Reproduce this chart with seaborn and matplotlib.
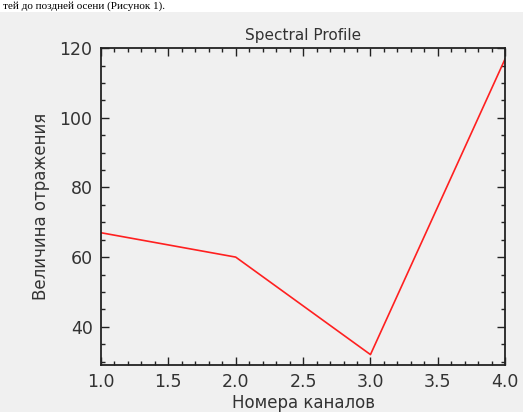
import matplotlib
matplotlib.use('Agg')
import matplotlib.pyplot as plt
from matplotlib.ticker import MultipleLocator
import seaborn as sns
import pandas as pd

channels = [1, 2, 3, 4]
reflectance = [67, 60, 32, 117]

sns.set_theme(style='ticks')
plt.rcParams['font.family'] = ['DejaVu Sans']

df = pd.DataFrame({'channel': channels, 'value': reflectance})

fig = plt.figure(figsize=(5.23, 4.12), dpi=100)
fig.patch.set_facecolor('#f0f0f0')

# white strip at top with the document text above the chart
fig.patches.append(plt.Rectangle((0, 0.97), 1, 0.03, transform=fig.transFigure,
                                 facecolor='white', edgecolor='none'))
fig.text(0.005, 0.973, 'тей до поздней осени (Рисунок 1).', fontsize=8,
         family='Liberation Serif', color='black', va='bottom', ha='left')

ax = fig.add_axes([0.193, 0.114, 0.773, 0.769])
ax.set_facecolor('#f0f0f0')
sns.lineplot(data=df, x='channel', y='value', color='#ff2020', linewidth=1.2, ax=ax)

ax.set_xlim(1.0, 4.0)
ax.set_ylim(29, 120)
ax.xaxis.set_major_locator(MultipleLocator(0.5))
ax.xaxis.set_minor_locator(MultipleLocator(0.1))
ax.yaxis.set_major_locator(MultipleLocator(20))
ax.yaxis.set_minor_locator(MultipleLocator(5))
ax.tick_params(which='both', direction='in', top=True, right=True, color='#222222')
ax.tick_params(which='major', length=6, width=1.0, labelsize=12.5, labelcolor='#333333', pad=6)
ax.tick_params(which='minor', length=3, width=1.0)
ax.tick_params(axis='y', labelright=False)
ax.tick_params(axis='x', labeltop=False)
for s in ax.spines.values():
    s.set_color('#222222')
    s.set_linewidth(1.3)

ax.set_title('Spectral Profile', fontsize=11, color='#333333', pad=6)
ax.set_xlabel('Номера каналов', fontsize=12, color='#333333', labelpad=2)
ax.set_ylabel('Величина отражения', fontsize=12, color='#333333', labelpad=7)

fig.savefig('out.png', dpi=100, facecolor=fig.get_facecolor())
